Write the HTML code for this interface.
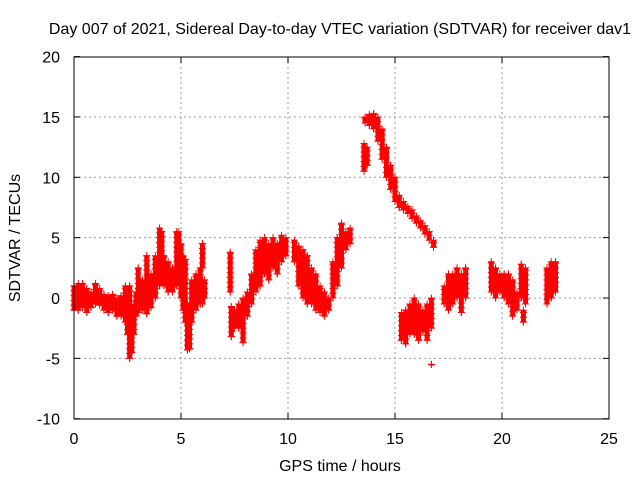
<!DOCTYPE html>
<html><head><meta charset="utf-8"><style>
body{margin:0;background:#fff;width:640px;height:480px;overflow:hidden}
svg text{font-family:"Liberation Sans",sans-serif;font-size:16px;fill:#000}
</style></head><body>
<svg id="chart" width="640" height="480" xmlns="http://www.w3.org/2000/svg">
<text x="340" y="34" text-anchor="middle">Day 007 of 2021, Sidereal Day-to-day VTEC variation (SDTVAR) for receiver dav1</text>
<g id="grid"></g>
<g id="ticks"></g>
<g id="marks"></g>
<rect x="74" y="57" width="535" height="362" fill="none" stroke="#000" stroke-width="1"/>
<text x="340" y="471" text-anchor="middle">GPS time / hours</text>
<text transform="translate(20,238) rotate(-90)" text-anchor="middle">SDTVAR / TECUs</text>
</svg>
<script>
const xTicks=[0,5,10,15,20,25];
const yTicks=[-10,-5,0,5,10,15,20];
const times=[0,0.2,0.4,0.6,0.8,1.0,1.2,1.4,1.6,1.8,2.0,2.2,2.4,2.5,2.6,2.7,2.8,2.9,3.0,3.2,3.4,3.6,3.8,4.0,4.1,4.2,4.4,4.6,4.8,4.9,5.0,5.1,5.2,5.3,5.4,5.5,5.7,5.9,6.0,6.0,6.1,
7.3,7.35,7.5,7.7,7.9,8.1,8.3,8.5,8.7,8.9,9.1,9.3,9.5,9.7,9.9,10.3,10.5,10.7,10.9,11.1,11.3,11.5,11.7,11.9,12.1,12.3,12.5,12.7,12.9,
13.55,13.7,13.6,13.8,14.0,14.2,14.4,14.6,14.8,15.0,15.2,15.4,15.6,15.8,16.0,16.2,16.4,16.6,16.8,
15.3,15.5,15.7,15.9,16.1,16.3,16.5,16.7,16.7,17.3,17.5,17.7,17.9,18.1,18.3,
19.5,19.7,19.9,20.1,20.3,20.5,20.7,20.9,21.0,21.1,22.1,22.3,22.5];
const lows=[-1,-1,-0.8,-1.2,-0.8,-0.5,-0.6,-1,-1.2,-1,-1.5,-1.5,-2,-3,-5,-4.5,-3,-1.5,-1.2,-1,-1.3,-0.8,0,1,3.5,1,0.5,0.5,1,2,0,-1,-2,-4.3,-4.2,-2,-1,-0.5,2.5,-0.5,0,
0.5,-3.2,-2.5,-2.5,-3.7,-1.5,-0.5,0.5,1,2,1.5,2.5,2,3,3.5,3,1,0,-0.5,-0.5,-1,-1.2,-1.5,-1,0,1,2.5,4,4.5,
10.5,11,14.5,14.3,14,13,11.5,10,9,8,7.5,7.3,7,6.6,6.2,5.8,5.3,4.8,4.2,
-3.5,-3.8,-3,-3,-3.5,-2.8,-3.5,-2.5,-5.5,-0.5,-1,-0.5,0,-1.2,0,
0.5,0,0.5,0,-0.5,-1.5,-1,0,-2,-0.5,-0.5,0,0.5];
const highs=[1,1.2,1.2,0.8,0.5,1.2,0.8,0.3,0.2,0.3,0,0.2,1,0.5,1,-1,-0.5,0.5,2.5,1.5,3.5,2,3.5,5.8,5.5,3.5,3,2.5,5.5,5.5,4.5,3.5,3.2,-0.5,-1,1.5,2,2.5,4.5,1.5,1.5,
3.8,-0.7,-1,-0.5,0,0.5,2,4,4.8,5,4.5,5,4.5,5.2,5,4.8,4.3,4,3.5,2.5,2,1,0.5,0,3,5,6.2,5.5,5.8,
12.8,12.5,15,15.2,15.3,15,14,12.5,11,10,8.5,8,7.6,7.3,6.8,6.4,6,5.5,4.8,
-1.2,-1,-0.5,0,-0.5,-1,-0.5,0,-5.5,1,2,2,2.5,2,2.5,
3,2.5,2,2,2,1.5,0.5,2.8,-1,2.5,2.5,3,3];
const X=t=>74+t*21.4;
const Y=v=>298-v*12.07;
const NS='http://www.w3.org/2000/svg';
const grid=document.getElementById('grid'),ticks=document.getElementById('ticks'),marks=document.getElementById('marks');
function mk(tag,attrs,parent){const e=document.createElementNS(NS,tag);for(const k in attrs)e.setAttribute(k,attrs[k]);parent.appendChild(e);return e;}
xTicks.forEach(t=>{
 if(t>0&&t<25){const g=mk('line',{x1:X(t),x2:X(t),y1:57,y2:419,stroke:'#999','stroke-dasharray':'2,3'},grid);
 
 }
 mk('line',{x1:X(t),x2:X(t),y1:419,y2:413,stroke:'#000'},ticks);
 mk('line',{x1:X(t),x2:X(t),y1:57,y2:63,stroke:'#000'},ticks);
 const l=mk('text',{x:X(t),y:444,'text-anchor':'middle'},ticks);l.textContent=t;
 
 
});
yTicks.forEach(v=>{
 if(v>-10&&v<20){const g=mk('line',{x1:74,x2:609,y1:Y(v),y2:Y(v),stroke:'#999','stroke-dasharray':'2,3'},grid);
 
 }
 mk('line',{x1:74,x2:80,y1:Y(v),y2:Y(v),stroke:'#000'},ticks);
 mk('line',{x1:603,x2:609,y1:Y(v),y2:Y(v),stroke:'#000'},ticks);
 const l=mk('text',{x:60,y:Y(v)+6,'text-anchor':'end'},ticks);l.textContent=v;
 
 
});
times.forEach((t,i)=>{
 const g=mk('g',{},marks);
 
 
 const x=X(t),yh=Y(highs[i]),yl=Y(lows[i]);
 mk('rect',{x:x-2.5,y:yh,width:5,height:Math.max(1,yl-yh),fill:'#f00'},g);
 for(let v=lows[i];v<=highs[i]+0.001;v+=0.4){
  const y=Y(v);
  mk('path',{d:`M${x-3.5} ${y}H${x+3.5}M${x} ${y-3.5}V${y+3.5}`,stroke:'#f00','stroke-width':1},g);
 }
 mk('path',{d:`M${x-3.5} ${yh}H${x+3.5}M${x-3.5} ${yl}H${x+3.5}M${x} ${yl-3.5}V${yl+3.5}M${x} ${yh-3.5}V${yh+3.5}`,stroke:'#f00','stroke-width':1},g);
});
</script>
</body></html>
